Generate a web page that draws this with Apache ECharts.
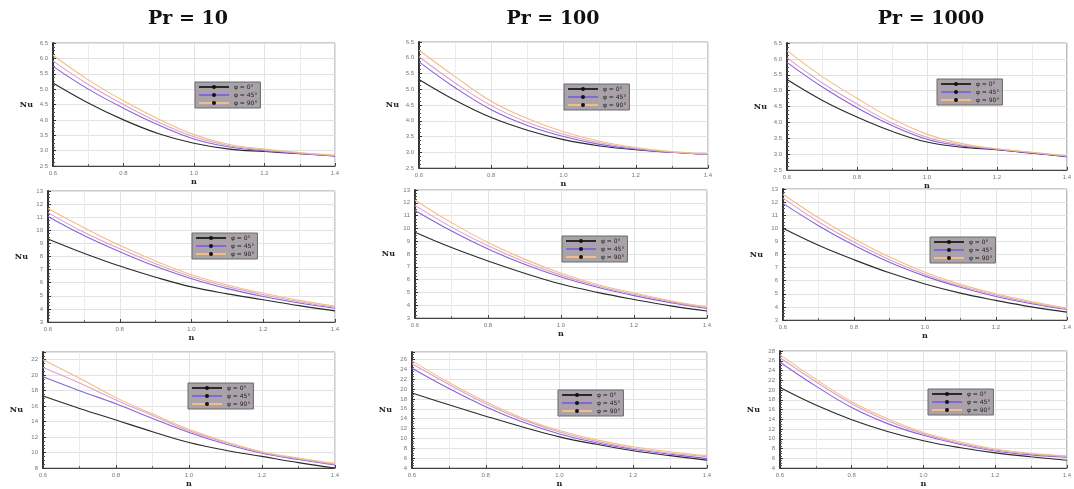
<!DOCTYPE html>
<html>
<head>
<meta charset="utf-8">
<script src="https://cdn.jsdelivr.net/npm/echarts@6/dist/echarts.min.js"></script>
<style>
html,body{margin:0;padding:0;background:#fff;}
#chart{width:1074px;height:489px;}
</style>
</head>
<body>
<div id="chart"></div>
<script>
// ---- data ----
const N_VALUES = [0.6, 0.7, 0.8, 0.9, 1.0, 1.1, 1.2, 1.3, 1.4];
const COLUMN_TITLES = ['Pr = 10', 'Pr = 100', 'Pr = 1000'];
const LEGEND_NAMES = ['φ = 0°', 'φ = 45°', 'φ = 90°'];

// Row 1
const R1_PR10_PHI0   = [5.20, 4.55, 4.00, 3.55, 3.24, 3.05, 2.97, 2.90, 2.83];
const R1_PR10_PHI45  = [5.74, 5.00, 4.38, 3.83, 3.38, 3.12, 3.00, 2.91, 2.83];
const R1_PR10_PHI90B = [5.92, 5.15, 4.50, 3.92, 3.45, 3.16, 3.02, 2.92, 2.84];
const R1_PR10_PHI90  = [6.10, 5.30, 4.62, 4.02, 3.52, 3.20, 3.05, 2.94, 2.85];

const R1_PR100_PHI0   = [5.31, 4.65, 4.10, 3.70, 3.40, 3.20, 3.08, 3.00, 2.93];
const R1_PR100_PHI45  = [5.87, 5.05, 4.35, 3.85, 3.50, 3.25, 3.10, 3.00, 2.93];
const R1_PR100_PHI90B = [6.03, 5.20, 4.48, 3.95, 3.57, 3.30, 3.12, 3.01, 2.94];
const R1_PR100_PHI90  = [6.24, 5.40, 4.62, 4.07, 3.65, 3.35, 3.15, 3.02, 2.95];

const R1_PR1000_PHI0   = [5.35, 4.70, 4.17, 3.72, 3.38, 3.22, 3.14, 3.03, 2.92];
const R1_PR1000_PHI45  = [5.89, 5.12, 4.46, 3.90, 3.47, 3.26, 3.15, 3.04, 2.93];
const R1_PR1000_PHI90B = [6.03, 5.25, 4.58, 3.98, 3.53, 3.29, 3.16, 3.05, 2.94];
const R1_PR1000_PHI90  = [6.26, 5.45, 4.76, 4.12, 3.63, 3.33, 3.17, 3.06, 2.95];

// Row 2
const R2_PR10_PHI0   = [9.34, 8.25, 7.27, 6.42, 5.68, 5.15, 4.70, 4.25, 3.85];
const R2_PR10_PHI45  = [11.05, 9.60, 8.37, 7.25, 6.30, 5.55, 4.95, 4.45, 4.05];
const R2_PR10_PHI90B = [11.35, 9.85, 8.60, 7.45, 6.45, 5.70, 5.08, 4.55, 4.12];
const R2_PR10_PHI90  = [11.66, 10.20, 8.85, 7.65, 6.60, 5.82, 5.20, 4.65, 4.22];

const R2_PR100_PHI0   = [9.70, 8.50, 7.45, 6.50, 5.65, 5.00, 4.45, 3.95, 3.55];
const R2_PR100_PHI45  = [11.40, 9.80, 8.40, 7.20, 6.20, 5.40, 4.75, 4.20, 3.75];
const R2_PR100_PHI90B = [11.80, 10.10, 8.65, 7.40, 6.35, 5.50, 4.85, 4.28, 3.80];
const R2_PR100_PHI90  = [12.20, 10.45, 8.90, 7.60, 6.50, 5.62, 4.95, 4.35, 3.86];

const R2_PR1000_PHI0   = [10.00, 8.70, 7.60, 6.60, 5.75, 5.05, 4.50, 4.00, 3.60];
const R2_PR1000_PHI45  = [11.90, 10.20, 8.70, 7.40, 6.35, 5.50, 4.80, 4.25, 3.80];
const R2_PR1000_PHI90B = [12.30, 10.50, 8.95, 7.60, 6.50, 5.60, 4.90, 4.32, 3.85];
const R2_PR1000_PHI90  = [12.60, 10.80, 9.20, 7.80, 6.65, 5.72, 5.00, 4.40, 3.90];

// Row 3
const R3_PR10_PHI0   = [17.3, 15.7, 14.2, 12.7, 11.3, 10.3, 9.5, 8.7, 8.0];
const R3_PR10_PHI45  = [19.8, 18.0, 16.3, 14.4, 12.6, 11.1, 9.9, 9.1, 8.4];
const R3_PR10_PHI90B = [21.0, 19.0, 16.8, 14.8, 12.8, 11.3, 10.0, 9.2, 8.5];
const R3_PR10_PHI90  = [22.0, 19.6, 17.1, 15.0, 13.0, 11.4, 10.1, 9.3, 8.6];

const R3_PR100_PHI0   = [19.2, 16.8, 14.5, 12.3, 10.3, 8.8, 7.5, 6.5, 5.6];
const R3_PR100_PHI45  = [24.2, 20.1, 16.4, 13.3, 10.9, 9.1, 7.8, 6.8, 5.9];
const R3_PR100_PHI90B = [25.1, 20.9, 17.0, 13.8, 11.3, 9.4, 8.0, 7.0, 6.3];
const R3_PR100_PHI90  = [25.7, 21.3, 17.4, 14.1, 11.6, 9.7, 8.3, 7.3, 6.5];

const R3_PR1000_PHI0   = [20.5, 16.9, 13.9, 11.5, 9.6, 8.2, 7.1, 6.3, 5.6];
const R3_PR1000_PHI45  = [25.7, 20.8, 16.4, 13.1, 10.7, 8.9, 7.5, 6.7, 6.2];
const R3_PR1000_PHI90B = [26.6, 21.7, 17.2, 13.7, 11.0, 9.1, 7.7, 6.9, 6.35];
const R3_PR1000_PHI90  = [27.2, 22.2, 17.6, 14.1, 11.3, 9.4, 7.9, 7.0, 6.5];

// y-axis tick settings per panel (row-major)
const Y_MIN      = [2.5, 2.5, 2.5, 3, 3, 3, 8, 4, 4];
const Y_MAX      = [6.5, 6.5, 6.5, 13, 13, 13, 23, 27.5, 28];
const Y_INTERVAL = [0.5, 0.5, 0.5, 1, 1, 1, 2, 2, 2];
const Y_DECIMALS = [1, 1, 1, 0, 0, 0, 0, 0, 0];

// ---- layout ----
const PANELS = [
  [R1_PR10_PHI0, R1_PR10_PHI45, R1_PR10_PHI90B, R1_PR10_PHI90],
  [R1_PR100_PHI0, R1_PR100_PHI45, R1_PR100_PHI90B, R1_PR100_PHI90],
  [R1_PR1000_PHI0, R1_PR1000_PHI45, R1_PR1000_PHI90B, R1_PR1000_PHI90],
  [R2_PR10_PHI0, R2_PR10_PHI45, R2_PR10_PHI90B, R2_PR10_PHI90],
  [R2_PR100_PHI0, R2_PR100_PHI45, R2_PR100_PHI90B, R2_PR100_PHI90],
  [R2_PR1000_PHI0, R2_PR1000_PHI45, R2_PR1000_PHI90B, R2_PR1000_PHI90],
  [R3_PR10_PHI0, R3_PR10_PHI45, R3_PR10_PHI90B, R3_PR10_PHI90],
  [R3_PR100_PHI0, R3_PR100_PHI45, R3_PR100_PHI90B, R3_PR100_PHI90],
  [R3_PR1000_PHI0, R3_PR1000_PHI45, R3_PR1000_PHI90B, R3_PR1000_PHI90]
];
const GRID_BOX = [
  [53, 43, 282, 123], [419, 42, 289, 126], [787, 43, 285, 127],
  [48, 191, 287, 131], [415, 190, 292, 128], [783, 189, 287, 131],
  [43, 352, 292, 124], [412, 352, 295, 126], [780, 351, 292, 127]
];
const LEGEND_POS = [
  [195, 82], [564, 84], [937, 79],
  [192, 233], [562, 236], [930, 237],
  [188, 383], [558, 390], [928, 389]
];
const TITLE_X = [188, 553, 931];
const SERIES_COLORS = ['#2a2a2a', '#8466d6', '#dca2cf', '#f5bd85'];
const SERIES_NAMES = ['φ = 0°', 'φ = 45°', 'φ = 90° ', 'φ = 90°'];

const grids = [], xAxes = [], yAxes = [], series = [], legends = [], graphics = [];

PANELS.forEach((panel, i) => {
  const b = GRID_BOX[i];
  grids.push({
    left: b[0], top: b[1], width: b[2], height: b[3],
    show: true, borderColor: '#9a9a9a', borderWidth: 1, backgroundColor: '#fff'
  });
  xAxes.push({
    type: 'value', gridIndex: i, min: 0.6, max: 1.4, interval: 0.2,
    name: 'n', nameLocation: 'middle', nameGap: 12,
    nameTextStyle: { fontFamily: 'DejaVu Serif', fontWeight: 'bold', fontSize: 8, color: '#222' },
    axisLine: { show: true, onZero: false, lineStyle: { color: '#444', width: 1.2 } },
    axisTick: { show: true, inside: true, length: 3, lineStyle: { color: '#444' } },
    minorTick: { show: true, splitNumber: 2, length: 2, lineStyle: { color: '#666' } },
    axisLabel: { fontSize: 6, color: '#777', margin: 4, formatter: v => v.toFixed(1) },
    splitLine: { show: true, lineStyle: { color: '#e2e2e2', width: 1 } },
    minorSplitLine: { show: true, lineStyle: { color: '#ececec', width: 1 } }
  });
  const dec = Y_DECIMALS[i];
  yAxes.push({
    type: 'value', gridIndex: i, min: Y_MIN[i], max: Y_MAX[i], interval: Y_INTERVAL[i],
    name: 'Nu', nameLocation: 'middle', nameGap: 20, nameRotate: 0,
    nameTextStyle: { fontFamily: 'DejaVu Serif', fontWeight: 'bold', fontSize: 8, color: '#222' },
    axisLine: { show: true, lineStyle: { color: '#333', width: 2 } },
    axisTick: { show: true, inside: true, length: 3, lineStyle: { color: '#333' } },
    minorTick: { show: true, splitNumber: 4, length: 2, lineStyle: { color: '#555' } },
    axisLabel: { fontSize: 6, color: '#777', margin: 5, showMaxLabel: Y_MAX[i] % Y_INTERVAL[i] === 0,
      formatter: v => v.toFixed(dec) },
    splitLine: { show: true, lineStyle: { color: '#e2e2e2', width: 1 } }
  });
  panel.forEach((arr, k) => {
    series.push({
      type: 'line', name: SERIES_NAMES[k], xAxisIndex: i, yAxisIndex: i,
      data: N_VALUES.map((n, j) => [n, arr[j]]),
      smooth: 0.4, symbol: 'circle', symbolSize: 4, showSymbol: false,
      lineStyle: { color: SERIES_COLORS[k], width: 1.1 },
      itemStyle: { color: SERIES_COLORS[k] },
      z: 2 + k
    });
  });
  legends.push({
    left: LEGEND_POS[i][0], top: LEGEND_POS[i][1], orient: 'vertical',
    data: LEGEND_NAMES, selectedMode: false,
    backgroundColor: '#a9a2a9', borderColor: '#6a6a6a', borderWidth: 1,
    padding: [2, 3, 2, 3], itemGap: 2, itemWidth: 30, itemHeight: 5,
    itemStyle: { color: '#111' },
    textStyle: { fontSize: 6, color: '#222', fontFamily: 'DejaVu Sans' }
  });
});

TITLE_X.forEach((x, c) => {
  graphics.push({
    type: 'text', x: x, y: 19,
    style: { text: COLUMN_TITLES[c], font: 'bold 19px "DejaVu Serif"', fill: '#111',
      align: 'center', verticalAlign: 'middle' }
  });
});

const chart = echarts.init(document.getElementById('chart'), null, { renderer: 'canvas' });
chart.setOption({
  animation: false,
  backgroundColor: '#fff',
  grid: grids, xAxis: xAxes, yAxis: yAxes, series: series,
  legend: legends, graphic: graphics
});
</script>
</body>
</html>
